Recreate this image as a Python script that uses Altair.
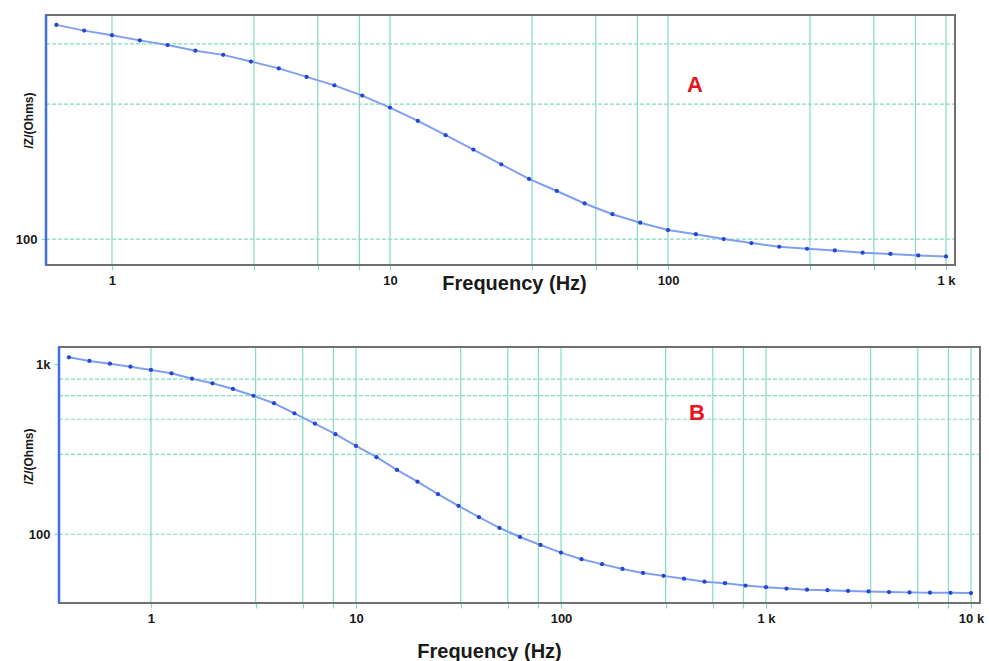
import altair as alt
import pandas as pd

# ---------------- data ----------------
freq_a = [0.631, 0.794, 1.0, 1.259, 1.585, 1.995, 2.512, 3.162, 3.981, 5.012, 6.31,
          7.943, 10, 12.59, 15.85, 19.95, 25.12, 31.62, 39.81, 50.12, 63.1, 79.43,
          100, 125.9, 158.5, 199.5, 251.2, 316.2, 398.1, 501.2, 631, 794.3, 1000]
z_a = [557, 532, 513, 492, 474, 453, 438, 415, 393, 367, 343, 316, 287, 258, 230,
       205, 182, 162, 147, 133, 122, 114, 107.5, 104, 100, 96.8, 94, 92.5, 91.3,
       89.6, 88.7, 87.7, 87.0]

freq_b = [0.398, 0.501, 0.631, 0.794, 1.0, 1.259, 1.585, 1.995, 2.512, 3.162, 3.981,
          5.012, 6.31, 7.943, 10, 12.59, 15.85, 19.95, 25.12, 31.62, 39.81, 50.12,
          63.1, 79.43, 100, 125.9, 158.5, 199.5, 251.2, 316.2, 398.1, 501.2, 631,
          794.3, 1000, 1259, 1585, 1995, 2512, 3162, 3981, 5012, 6310, 7943, 10000]
z_b = [1100, 1046, 1008, 968, 926, 885, 823, 773, 716, 653, 590, 515, 447, 388, 331,
       284, 239, 204, 172, 147, 126, 109, 96.4, 86.5, 78, 71.3, 66.7, 62.5, 59.2,
       56.9, 54.8, 52.6, 51.5, 49.9, 48.8, 47.9, 47.2, 46.9, 46.4, 46.1, 45.7, 45.5,
       45.3, 45.2, 45.1]

xgrid_a = [1, 3.24, 5.5, 7.76, 10, 32.4, 55, 77.6, 100, 324, 550, 776, 1000]
xgrid_b = [1, 3.24, 5.5, 7.76, 10, 32.4, 55, 77.6, 100, 324, 550, 776, 1000,
           3240, 5500, 7760, 10000]
ygrid_a = [100, 295, 478]
ygrid_b = [100, 295, 475, 654, 819]
ylabels_a = [100]
ylabels_b = [100, 1000]

xdom_a = [0.579, 1077]
ydom_a = [81.2, 603]
xdom_b = [0.356, 11060]
ydom_b = [39.4, 1264]

ann_a = {"f": [125], "z": [344], "t": ["A"]}
ann_b = {"f": [460], "z": [517], "t": ["B"]}

W, H = 989, 661
GRID = "#84dcc3"
FRAME = "#707070"
FONT = "Liberation Sans"
XLAB = ("datum.value == 1 ? '1' : datum.value == 10 ? '10' : datum.value == 100 ? '100' : "
        "datum.value == 1000 ? '1 k' : datum.value == 10000 ? '10 k' : ''")
YLAB = "datum.value == 1000 ? '1k' : datum.value == 100 ? '100' : ''"


def panel(freq, z, xgrid, ygrid, ylabs, ann, xdom, ydom, xrange, yrange,
          ytx, yty, xtx, xty):
    xs = alt.Scale(type="log", domain=xdom, range=xrange, nice=False)
    ys = alt.Scale(type="log", domain=ydom, range=yrange, nice=False)
    df = pd.DataFrame({"f": freq, "z": z})

    xaxis = alt.Axis(orient="bottom", offset=yrange[0] - H,
                     values=xgrid, labelExpr=XLAB, grid=False, domain=False,
                     tickColor=GRID, tickSize=5, tickWidth=1.2,
                     labelFont=FONT, labelFontSize=13, labelFontWeight="bold",
                     labelColor="#1a1a1a", labelPadding=4, labelFlush=False,
                     labelOverlap=False,
                     title="Frequency (Hz)", titleFont=FONT, titleFontSize=20,
                     titleFontWeight="bold", titleColor="#1a1a1a",
                     titleX=xtx, titleY=xty, titleBaseline="middle",
                     titleAlign="center", titleAnchor="start")
    yaxis = alt.Axis(orient="left", offset=-xrange[0],
                     values=ylabs, labelExpr=YLAB, grid=False, domain=False,
                     tickColor=GRID, tickSize=5, tickWidth=1.2,
                     labelFont=FONT, labelFontSize=13, labelFontWeight="bold",
                     labelColor="#1a1a1a", labelPadding=4, labelOverlap=False,
                     title="/Z/(Ohms)", titleFont=FONT, titleFontSize=12,
                     titleFontWeight="bold", titleColor="#1a1a1a",
                     titleX=ytx, titleY=yty, titleBaseline="middle",
                     titleAlign="center", titleAngle=270)

    X = lambda fld: alt.X(fld, scale=xs, axis=xaxis)
    Y = lambda fld: alt.Y(fld, scale=ys, axis=yaxis)

    hgrid = alt.Chart(pd.DataFrame({
        "g": ygrid, "x1": [xdom[0]] * len(ygrid), "x2": [xdom[1]] * len(ygrid)
    })).mark_rule(color=GRID, strokeWidth=1.2, strokeDash=[4, 2]).encode(
        y=Y("g:Q"), x=X("x1:Q"), x2="x2:Q")

    vgrid = alt.Chart(pd.DataFrame({
        "g": xgrid, "y1": [ydom[0]] * len(xgrid), "y2": [ydom[1]] * len(xgrid)
    })).mark_rule(color=GRID, strokeWidth=1.2).encode(
        x=X("g:Q"), y=Y("y1:Q"), y2="y2:Q")

    box = pd.DataFrame({"x1": [xdom[0]], "x2": [xdom[1]],
                        "y1": [ydom[0]], "y2": [ydom[1]]})
    frame = alt.Chart(box).mark_rect(fillOpacity=0, stroke=FRAME, strokeWidth=2).encode(
        x=X("x1:Q"), x2="x2:Q", y=Y("y1:Q"), y2="y2:Q")
    left = alt.Chart(box).mark_rule(color="#3d6fe6", strokeWidth=2.5).encode(
        x=X("x1:Q"), y=Y("y1:Q"), y2="y2:Q")

    line = alt.Chart(df).mark_line(color="#7f9ff0", strokeWidth=2).encode(
        x=X("f:Q"), y=Y("z:Q"))
    pts = alt.Chart(df).mark_circle(color="#2446d2", size=18, opacity=1).encode(
        x=X("f:Q"), y=Y("z:Q"))
    txt = alt.Chart(pd.DataFrame(ann)).mark_text(
        color="#e8141c", font=FONT, fontSize=22, fontWeight="bold"
    ).encode(x=X("f:Q"), y=Y("z:Q"), text="t:N")
    return alt.layer(vgrid, hgrid, frame, left, line, pts, txt)


top = panel(freq_a, z_a, xgrid_a, ygrid_a, ylabels_a, ann_a, xdom_a, ydom_a,
            [46, 955], [265, 15], -18, 120, 514, 18)
bottom = panel(freq_b, z_b, xgrid_b, ygrid_b, ylabels_b, ann_b, xdom_b, ydom_b,
               [59, 980], [603, 347], -31, 456, 489, 48)

chart = alt.layer(top, bottom).resolve_scale(
    x="independent", y="independent"
).properties(
    width=W, height=H,
    autosize=alt.AutoSizeParams(type="none"),
    padding=0,
    background="white",
).configure_view(strokeOpacity=0)

chart.save("out.html", embed_options={"renderer": "svg", "actions": False})
